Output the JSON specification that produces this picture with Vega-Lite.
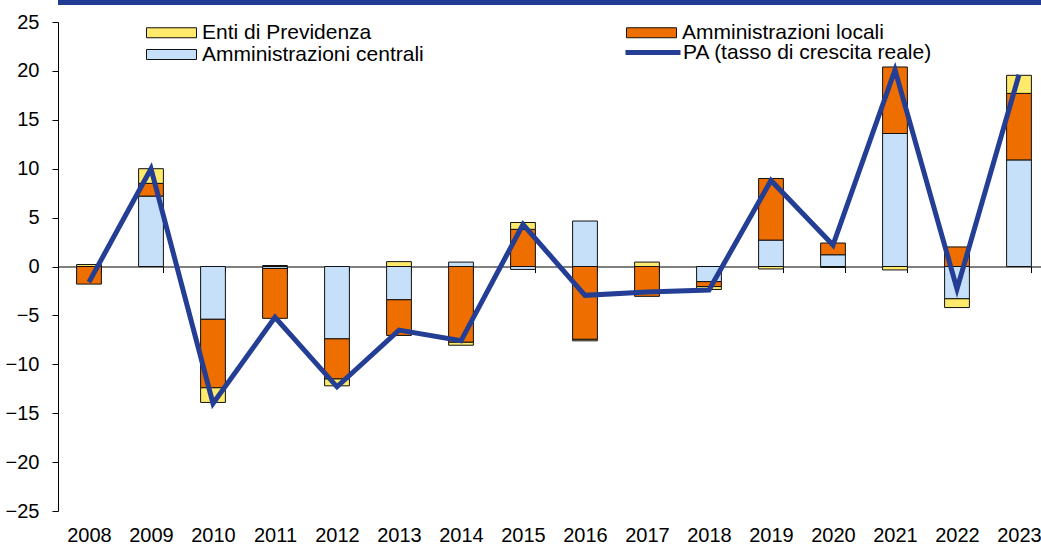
{
  "$schema": "https://vega.github.io/schema/vega-lite/v6.json",
  "autosize": "none",
  "width": 992,
  "height": 489,
  "padding": {"left": 58, "top": 22, "right": 0, "bottom": 34},
  "background": "white",
  "config": {
    "font": "Liberation Sans",
    "view": {"stroke": null},
    "axis": {"labelFont": "Liberation Sans", "labelFontSize": 20, "labelColor": "#000", "domainColor": "#000", "tickColor": "#000", "grid": false, "title": null}
  },
  "datasets": {
    "bars": [
      {"year": "2008", "comp": "Enti di Previdenza", "ord": 3, "value": 0.2},
      {"year": "2008", "comp": "Amministrazioni locali", "ord": 2, "value": -1.8},
      {"year": "2009", "comp": "Amministrazioni centrali", "ord": 1, "value": 7.2},
      {"year": "2009", "comp": "Amministrazioni locali", "ord": 2, "value": 1.3},
      {"year": "2009", "comp": "Enti di Previdenza", "ord": 3, "value": 1.5},
      {"year": "2010", "comp": "Amministrazioni centrali", "ord": 1, "value": -5.4},
      {"year": "2010", "comp": "Amministrazioni locali", "ord": 2, "value": -7.0},
      {"year": "2010", "comp": "Enti di Previdenza", "ord": 3, "value": -1.5},
      {"year": "2011", "comp": "Amministrazioni centrali", "ord": 1, "value": -0.2},
      {"year": "2011", "comp": "Amministrazioni locali", "ord": 2, "value": -5.1},
      {"year": "2011", "comp": "Enti di Previdenza", "ord": 3, "value": 0.1},
      {"year": "2012", "comp": "Amministrazioni centrali", "ord": 1, "value": -7.4},
      {"year": "2012", "comp": "Amministrazioni locali", "ord": 2, "value": -4.1},
      {"year": "2012", "comp": "Enti di Previdenza", "ord": 3, "value": -0.7},
      {"year": "2013", "comp": "Amministrazioni centrali", "ord": 1, "value": -3.4},
      {"year": "2013", "comp": "Amministrazioni locali", "ord": 2, "value": -3.65},
      {"year": "2013", "comp": "Enti di Previdenza", "ord": 3, "value": 0.5},
      {"year": "2014", "comp": "Amministrazioni centrali", "ord": 1, "value": 0.45},
      {"year": "2014", "comp": "Amministrazioni locali", "ord": 2, "value": -7.75},
      {"year": "2014", "comp": "Enti di Previdenza", "ord": 3, "value": -0.3},
      {"year": "2015", "comp": "Amministrazioni centrali", "ord": 1, "value": -0.3},
      {"year": "2015", "comp": "Amministrazioni locali", "ord": 2, "value": 3.8},
      {"year": "2015", "comp": "Enti di Previdenza", "ord": 3, "value": 0.7},
      {"year": "2016", "comp": "Amministrazioni centrali", "ord": 1, "value": 4.65},
      {"year": "2016", "comp": "Amministrazioni locali", "ord": 2, "value": -7.45},
      {"year": "2016", "comp": "Enti di Previdenza", "ord": 3, "value": -0.15},
      {"year": "2017", "comp": "Amministrazioni locali", "ord": 2, "value": -3.05},
      {"year": "2017", "comp": "Enti di Previdenza", "ord": 3, "value": 0.45},
      {"year": "2018", "comp": "Amministrazioni centrali", "ord": 1, "value": -1.55},
      {"year": "2018", "comp": "Amministrazioni locali", "ord": 2, "value": -0.5},
      {"year": "2018", "comp": "Enti di Previdenza", "ord": 3, "value": -0.3},
      {"year": "2019", "comp": "Amministrazioni centrali", "ord": 1, "value": 2.7},
      {"year": "2019", "comp": "Amministrazioni locali", "ord": 2, "value": 6.3},
      {"year": "2019", "comp": "Enti di Previdenza", "ord": 3, "value": -0.25},
      {"year": "2020", "comp": "Amministrazioni centrali", "ord": 1, "value": 1.2},
      {"year": "2020", "comp": "Amministrazioni locali", "ord": 2, "value": 1.2},
      {"year": "2020", "comp": "Enti di Previdenza", "ord": 3, "value": -0.1},
      {"year": "2021", "comp": "Amministrazioni centrali", "ord": 1, "value": 13.6},
      {"year": "2021", "comp": "Amministrazioni locali", "ord": 2, "value": 6.8},
      {"year": "2021", "comp": "Enti di Previdenza", "ord": 3, "value": -0.35},
      {"year": "2022", "comp": "Amministrazioni centrali", "ord": 1, "value": -3.3},
      {"year": "2022", "comp": "Amministrazioni locali", "ord": 2, "value": 2.0},
      {"year": "2022", "comp": "Enti di Previdenza", "ord": 3, "value": -0.9},
      {"year": "2023", "comp": "Amministrazioni centrali", "ord": 1, "value": 10.9},
      {"year": "2023", "comp": "Amministrazioni locali", "ord": 2, "value": 6.8},
      {"year": "2023", "comp": "Enti di Previdenza", "ord": 3, "value": 1.85}
    ],
    "pa": [
      {"year": "2008", "pa": -1.6},
      {"year": "2009", "pa": 10.0},
      {"year": "2010", "pa": -14.0},
      {"year": "2011", "pa": -5.2},
      {"year": "2012", "pa": -12.3},
      {"year": "2013", "pa": -6.5},
      {"year": "2014", "pa": -7.6},
      {"year": "2015", "pa": 4.3},
      {"year": "2016", "pa": -2.95},
      {"year": "2017", "pa": -2.6},
      {"year": "2018", "pa": -2.4},
      {"year": "2019", "pa": 8.8},
      {"year": "2020", "pa": 2.2},
      {"year": "2021", "pa": 20.1},
      {"year": "2022", "pa": -2.3},
      {"year": "2023", "pa": 19.6}
    ]
  },
  "layer": [
    {
      "data": {"name": "bars"},
      "mark": {"type": "bar", "stroke": "#111", "strokeWidth": 1},
      "encoding": {
        "x": {
          "field": "year",
          "type": "nominal",
          "sort": null,
          "scale": {"paddingInner": 0.6, "paddingOuter": 0.3},
          "axis": {"orient": "bottom", "offset": -244.5, "labelAngle": 0, "tickBand": "extent", "tickSize": 6, "labelPadding": 253, "domainWidth": 1, "tickWidth": 1}
        },
        "y": {
          "field": "value",
          "type": "quantitative",
          "stack": "zero",
          "scale": {"domain": [-25, 25], "nice": false},
          "axis": {"values": [-25, -20, -15, -10, -5, 0, 5, 10, 15, 20, 25], "tickSize": 6, "labelPadding": 13, "domainWidth": 1}
        },
        "order": {"field": "ord", "type": "quantitative"},
        "color": {
          "field": "comp",
          "type": "nominal",
          "scale": {
            "domain": ["Enti di Previdenza", "Amministrazioni centrali", "Amministrazioni locali"],
            "range": ["#FFEA6B", "#C6E0FA", "#EE6E00"]
          },
          "legend": {
            "orient": "none",
            "legendX": 78,
            "legendY": 0,
            "columns": 2,
            "columnPadding": 192,
            "rowPadding": 0,
            "title": null,
            "labelFont": "Liberation Sans",
            "labelFontSize": 21,
            "labelColor": "#000",
            "labelLimit": 500,
            "labelOffset": 45,
            "symbolSize": 100,
            "symbolType": "M0,-1H10V1H0Z",
            "symbolStrokeColor": "#111",
            "symbolStrokeWidth": 1
          }
        }
      }
    },
    {
      "data": {"name": "pa"},
      "mark": {"type": "line", "strokeWidth": 5, "strokeJoin": "miter"},
      "encoding": {
        "x": {"field": "year", "type": "nominal", "sort": null},
        "y": {"field": "pa", "type": "quantitative"},
        "stroke": {
          "datum": "PA (tasso di crescita reale)",
          "scale": {"domain": ["PA (tasso di crescita reale)"], "range": ["#233E94"]},
          "legend": {
            "orient": "none",
            "legendX": 557,
            "legendY": 20,
            "title": null,
            "labelFont": "Liberation Sans",
            "labelFontSize": 21,
            "labelColor": "#000",
            "labelLimit": 500,
            "labelOffset": 47,
            "symbolSize": 100,
            "symbolType": "M0,0H11",
            "symbolStrokeWidth": 5,
            "symbolFillColor": "transparent"
          }
        }
      }
    },
    {
      "data": {"values": [{"t": 27.0}]},
      "mark": {"type": "rule", "color": "#213B94", "strokeWidth": 5, "clip": false},
      "encoding": {"y": {"field": "t", "type": "quantitative"}}
    }
  ]
}
